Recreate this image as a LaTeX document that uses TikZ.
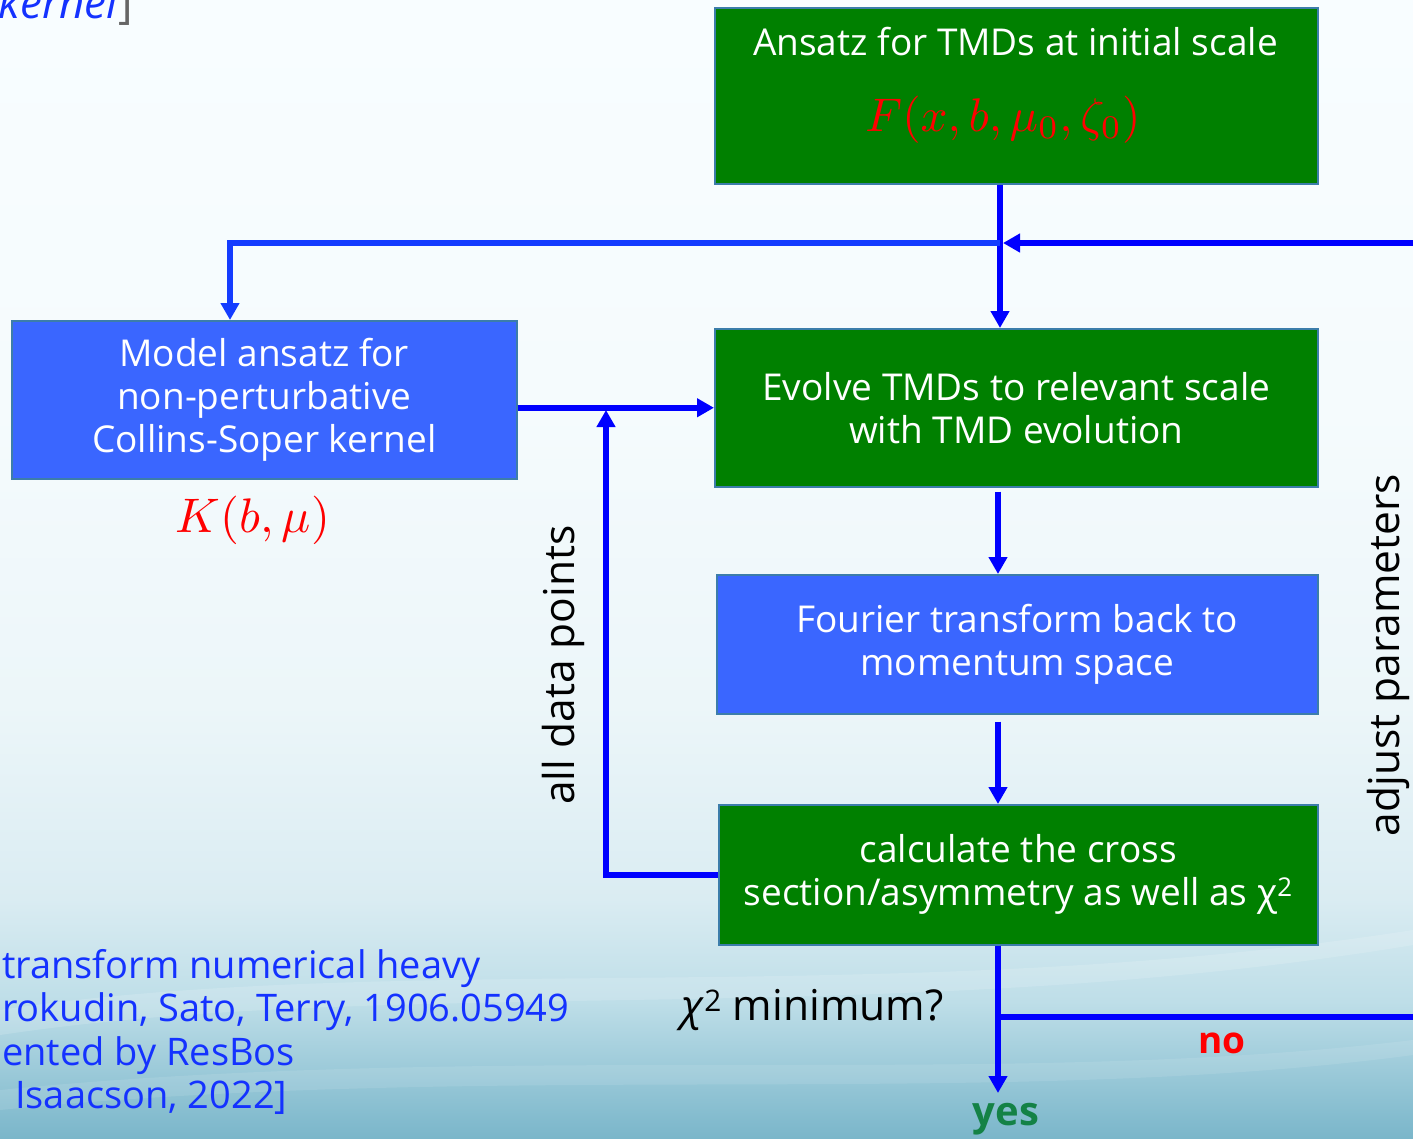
\documentclass[tikz,border=0pt]{standalone}
\usepackage{graphicx}
\usepackage[no-math]{fontspec}
\setmainfont{Open Sans}
\usetikzlibrary{arrows.meta}
\definecolor{boxgreen}{RGB}{0,128,0}
\definecolor{boxblue}{RGB}{58,102,255}
\definecolor{boxedge}{RGB}{60,125,170}
\definecolor{arrowblue}{RGB}{0,0,255}
\definecolor{arrowblueB}{RGB}{20,60,255}
\definecolor{reftext}{RGB}{20,50,255}
\definecolor{yesgreen}{RGB}{20,130,70}
\definecolor{bgA}{RGB}{248,253,255}
\definecolor{bgB}{RGB}{245,251,253}
\definecolor{bgC}{RGB}{236,246,249}
\definecolor{bgD}{RGB}{218,236,242}
\definecolor{bgE}{RGB}{190,222,232}
\definecolor{bgF}{RGB}{122,182,202}
\pgfdeclareverticalshading{bgshade}{100bp}{color(0bp)=(bgF); color(25bp)=(bgF); color(31bp)=(bgE); color(35.5bp)=(bgD); color(44bp)=(bgC); color(57bp)=(bgB); color(75bp)=(bgA); color(100bp)=(bgA)}
\newcommand{\boxfont}{\fontsize{37}{43}\selectfont}
\newcommand{\lblfont}{\fontsize{42.5}{48}\selectfont}
\tikzset{
  box/.style={draw=boxedge, line width=1.5pt, text=white, align=center, font=\boxfont, inner sep=0pt, anchor=north west},
  gbox/.style={box, fill=boxgreen},
  bbox/.style={box, fill=boxblue},
  conn/.style={draw=arrowblue, line width=6pt, -{Triangle[length=17pt,width=18pt]}},
  lbl/.style={font=\lblfont, text=black},
  reftxt/.style={font=\fontsize{38}{43}\selectfont, text=reftext, anchor=base west, inner sep=0pt},
}
\begin{document}
\begin{tikzpicture}[x=1pt, y=-1pt]
\useasboundingbox (0,0) rectangle (1413,1138);
\clip (0,0) rectangle (1413,1138);
\shade[shading=bgshade] (0,0) rectangle (1413,1138);
\fill[white, opacity=0.15] (0,1010) .. controls (400,950) and (900,1010) .. (1413,930) -- (1413,945) .. controls (900,1030) and (400,975) .. (0,1035) -- cycle;
\fill[white, opacity=0.10] (0,1090) .. controls (500,1040) and (1000,1090) .. (1413,1040) -- (1413,1055) .. controls (1000,1110) and (500,1060) .. (0,1110) -- cycle;

% boxes
\node[gbox, minimum width=603pt, minimum height=176pt] (init) at (714,7) {};
\node[font=\boxfont, text=white] (initT) at (1015.5,42) {Ansatz for TMDs at initial scale};
\node[text=red, inner sep=0pt] (initF) at (1003,120) {\resizebox{275pt}{!}{$F(x,b,\mu_0,\zeta_0)$}};
\node[gbox, minimum width=603pt, minimum height=158pt] (evolve) at (714,328) {Evolve TMDs to relevant scale\\with TMD evolution};
\node[bbox, minimum width=601pt, minimum height=139pt] (fourier) at (716,574) {Fourier transform back to\\momentum space};
\node[gbox, minimum width=599pt, minimum height=140pt] (calc) at (718,804) {calculate the cross\\section/asymmetry as well as χ\textsuperscript{2}};
\node[bbox, minimum width=505pt, minimum height=158pt] (model) at (11,320) {Model ansatz for\\non-perturbative\\Collins-Soper kernel};
\node[text=red, inner sep=0pt] (K) at (253,520) {\resizebox{154pt}{!}{$K(b,\mu)$}};

% coordinates
\coordinate (j1) at (1000,243);
\coordinate (j2) at (230,243);
\coordinate (adp) at (606,407);
\coordinate (br) at (998,1017);
\coordinate (yesend) at (998,1093);
\coordinate (loopR) at (1440,1017);
\coordinate (loopT) at (1440,243);

% connectors
\draw[conn] (init.south -| j1) -- (evolve.north -| j1);
\draw[conn] (br) -- (loopR) -- (loopT) -- ([xshift=3pt]j1);
\draw[conn, draw=arrowblueB] (j1) -- (j2) -- (model.north -| j2);
\draw[conn] (model.east |- evolve.west) -- (evolve.west);
\draw[conn, shorten >=3pt] (calc.west) -| (adp);
\draw[conn, shorten <=4pt] (evolve.south -| br) -- (fourier.north -| br);
\draw[conn, shorten <=7pt] (fourier.south -| br) -- (calc.north -| br);
\draw[conn] (calc.south -| br) -- (yesend);

% labels
\node[font=\fontsize{40}{44}\selectfont\bfseries, text=yesgreen] (yes) at (1006,1119) {yes};
\node[font=\boxfont\bfseries, text=red] (no) at (1222,1043) {no};
\node[lbl, anchor=west] (chimin) at (678,1010) {\textit{χ}\textsuperscript{2} minimum?};
\node[lbl, rotate=90] (adp-lbl) at (563,665) {all data points};
\node[lbl, rotate=90] (adj-lbl) at (1388,655) {adjust parameters};

% reference text fragments
\node[reftxt, font=\fontsize{44}{48}\selectfont\itshape, anchor=base east] (kern) at (118,18) {kernel};
\node[reftxt, font=\fontsize{44}{48}\selectfont, text=gray!80!black] (kernb) at (kern.base east) {]};
\node[reftxt] (r1) at (2,978) {transform numerical heavy};
\node[reftxt] (r2) at (2,1021) {rokudin, Sato, Terry, 1906.05949};
\node[reftxt] (r3) at (2,1065) {ented by ResBos};
\node[reftxt] (r4) at (15,1108) {Isaacson, 2022]};
\end{tikzpicture}
\end{document}
